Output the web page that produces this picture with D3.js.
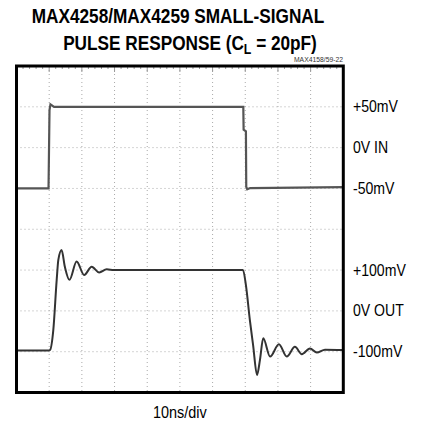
<!DOCTYPE html>
<html>
<head>
<meta charset="utf-8">
<script src="https://cdn.jsdelivr.net/npm/d3@7"></script>
<style>
body { margin: 0; background: #fff; }
text { font-family: "Liberation Sans", Arial, sans-serif; }
</style>
</head>
<body>
<script>
// time axis in ns (10ns/div, 10 divisions)
var inTime = [0, 9.8, 10.1, 10.4, 11.5, 69.4, 69.5, 70.2, 70.3, 70.6, 71.5, 100]
var inMv   = [-50, -50, 46, 53, 50, 50, 22, 20, -48, -51, -49.5, -48.5]

var outTime = [0, 9.9, 10.25, 11.26, 12.3, 12.8, 13.8, 14.8, 16.2, 18.4, 20.7, 23.0, 25.3, 27.6, 29.8,
               69.3, 70.2, 71.4, 72.4, 73.6, 74.5, 75.5, 77.6, 80.3, 82.7, 85.2, 87.3, 89.8, 91.9, 94.4, 100]
var outMv   = [-97, -97, -96, -47, 76, 125, 149, 108, 76, 121, 88, 108, 94, 102, 100,
               100, 63, -22, -84, -157, -120, -67, -112, -82, -112, -88, -106, -92, -102, -95, -96]

var inTicks = [50, 0, -50]
var inTickLabels = ["+50mV", "0V IN", "-50mV"]
var outTicks = [100, 0, -100]
var outTickLabels = ["+100mV", "0V OUT", "-100mV"]

var W = 422, H = 427
var plotL = 16.5, plotR = 343.3, plotT = 66, plotB = 392.5

var svg = d3.select('body').append('svg')
  .attr('width', W).attr('height', H)

var x = d3.scaleLinear().domain([0, 100]).range([plotL, plotR])
// input: 50mV/div, 0V at 2 div below top
var yIn = d3.scaleLinear().domain([-300, 100]).range([plotB, plotT])
// output: 100mV/div, 0V at 6 div below top
var yOut = d3.scaleLinear().domain([-200, 600]).range([plotB, plotT])

// squeeze a text horizontally (narrow font look), anchored at x0
function narrow(sel, x0, sx) {
  sel.attr('transform', 'translate(' + x0 + ',0) scale(' + sx + ',1) translate(' + (-x0) + ',0)')
}

// grid
var gridV = d3.range(1, 10).map(function(i){ return i * 10 })
var gridH = d3.range(-250, 100, 50)
svg.append('g').selectAll('line')
  .data(gridV).enter().append('line')
  .attr('x1', function(d){ return x(d) }).attr('x2', function(d){ return x(d) })
  .attr('y1', plotT).attr('y2', plotB)
  .attr('stroke', '#aaa').attr('stroke-width', 1).attr('stroke-dasharray', '1,3')
svg.append('g').selectAll('line')
  .data(gridH).enter().append('line')
  .attr('y1', function(d){ return yIn(d) }).attr('y2', function(d){ return yIn(d) })
  .attr('x1', plotL).attr('x2', plotR)
  .attr('stroke', '#aaa').attr('stroke-width', 1).attr('stroke-dasharray', '1,3')

// minor ticks along top edge
svg.append('g').selectAll('line')
  .data(d3.range(2, 100, 2)).enter().append('line')
  .attr('x1', function(d){ return x(d) }).attr('x2', function(d){ return x(d) })
  .attr('y1', plotT).attr('y2', function(d){ return d % 10 == 0 ? plotT + 6 : plotT + 3 })
  .attr('stroke', '#999').attr('stroke-width', 1)

// traces
var inLine = d3.line()
  .x(function(d){ return x(d[0]) })
  .y(function(d){ return yIn(d[1]) })
svg.append('path')
  .datum(d3.zip(inTime, inMv))
  .attr('d', inLine)
  .attr('fill', 'none').attr('stroke', '#555').attr('stroke-width', 2.2)

var outLine = d3.line()
  .curve(d3.curveMonotoneX)
  .x(function(d){ return x(d[0]) })
  .y(function(d){ return yOut(d[1]) })
svg.append('path')
  .datum(d3.zip(outTime, outMv))
  .attr('d', outLine)
  .attr('fill', 'none').attr('stroke', '#333').attr('stroke-width', 2)

// frame
svg.append('rect')
  .attr('x', plotL).attr('y', plotT)
  .attr('width', plotR - plotL).attr('height', plotB - plotT)
  .attr('fill', 'none').attr('stroke', '#000').attr('stroke-width', 3)

// right labels
var labX = 353
svg.append('g').selectAll('text')
  .data(inTicks).enter().append('text')
  .attr('x', labX).attr('y', function(d){ return yIn(d) })
  .attr('dy', '0.35em').attr('font-size', 16)
  .text(function(d, i){ return inTickLabels[i] })
  .call(narrow, labX, 0.88)
svg.append('g').selectAll('text')
  .data(outTicks).enter().append('text')
  .attr('x', labX).attr('y', function(d){ return yOut(d) })
  .attr('dy', '0.35em').attr('font-size', 16)
  .text(function(d, i){ return outTickLabels[i] })
  .call(narrow, labX, 0.88)

// title
svg.append('text')
  .attr('x', 178).attr('y', 23)
  .attr('text-anchor', 'middle').attr('font-size', 21).attr('font-weight', 'bold')
  .text('MAX4258/MAX4259 SMALL-SIGNAL')
  .call(narrow, 178, 0.82)
var t2 = svg.append('text')
  .attr('x', 190).attr('y', 50)
  .attr('text-anchor', 'middle').attr('font-size', 21).attr('font-weight', 'bold')
  .call(narrow, 190, 0.82)
t2.append('tspan').text('PULSE RESPONSE (C')
t2.append('tspan').attr('font-size', 15).attr('dy', 4).text('L')
t2.append('tspan').attr('dy', -4).text(' = 20pF)')

svg.append('text')
  .attr('x', 343).attr('y', 62)
  .attr('text-anchor', 'end').attr('font-size', 8).attr('fill', '#333')
  .text('MAX4158/59-22')
  .call(narrow, 343, 0.85)

svg.append('text')
  .attr('x', (plotL + plotR) / 2).attr('y', 418)
  .attr('text-anchor', 'middle').attr('font-size', 17)
  .text('10ns/div')
  .call(narrow, (plotL + plotR) / 2, 0.85)
</script>
</body>
</html>
